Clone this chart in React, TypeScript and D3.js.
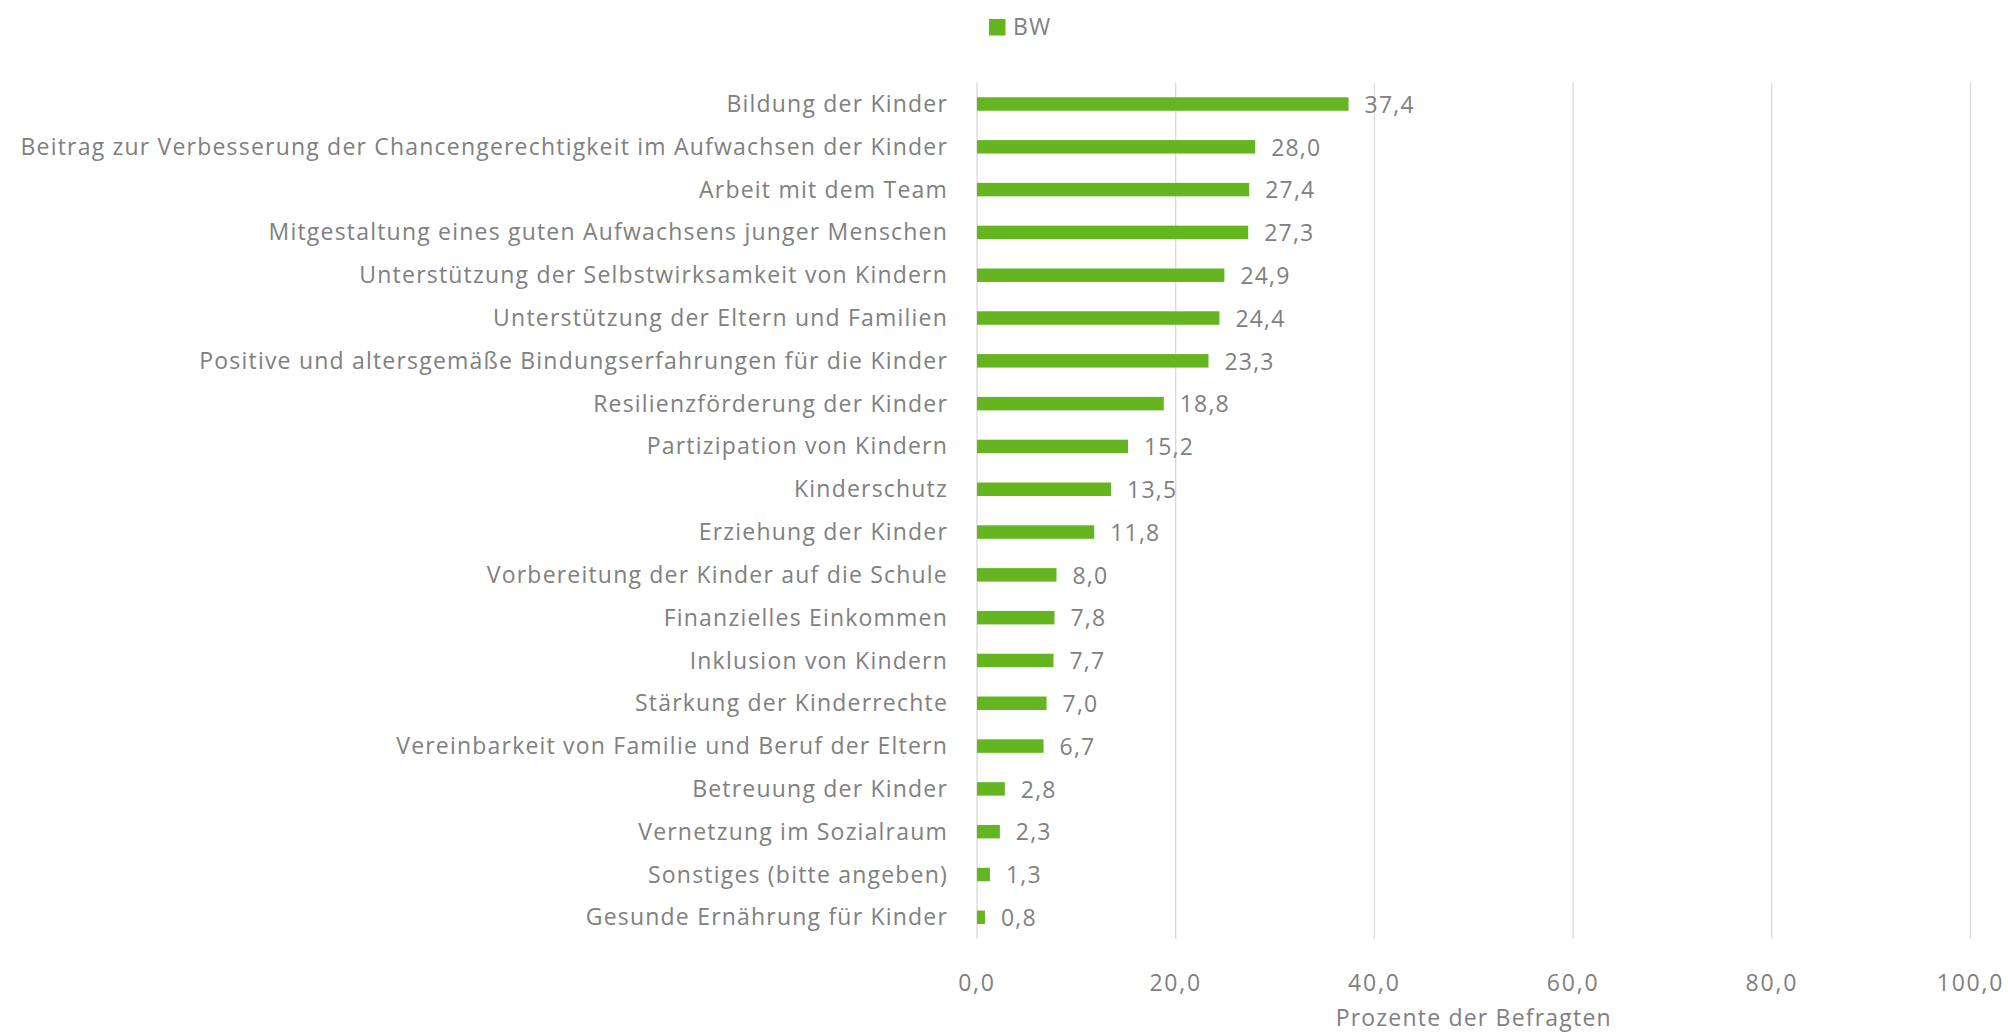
import React from "react";
import * as d3 from "d3";

const categories = [
  "Bildung der Kinder",
  "Beitrag zur Verbesserung der Chancengerechtigkeit im Aufwachsen der Kinder",
  "Arbeit mit dem Team",
  "Mitgestaltung eines guten Aufwachsens junger Menschen",
  "Unterstützung der Selbstwirksamkeit von Kindern",
  "Unterstützung der Eltern und Familien",
  "Positive und altersgemäße Bindungserfahrungen für die Kinder",
  "Resilienzförderung der Kinder",
  "Partizipation von Kindern",
  "Kinderschutz",
  "Erziehung der Kinder",
  "Vorbereitung der Kinder auf die Schule",
  "Finanzielles Einkommen",
  "Inklusion von Kindern",
  "Stärkung der Kinderrechte",
  "Vereinbarkeit von Familie und Beruf der Eltern",
  "Betreuung der Kinder",
  "Vernetzung im Sozialraum",
  "Sonstiges (bitte angeben)",
  "Gesunde Ernährung für Kinder",
];
const values = [37.4, 28.0, 27.4, 27.3, 24.9, 24.4, 23.3, 18.8, 15.2, 13.5, 11.8, 8.0, 7.8, 7.7, 7.0, 6.7, 2.8, 2.3, 1.3, 0.8];
const xTicks = [0, 20, 40, 60, 80, 100];
const seriesName = "BW";
const axisTitle = "Prozente der Befragten";

const W = 2008;
const H = 1033;
const left = 977;
const right = 1970.5;
const top = 82.6;
const bottom = 938.7;
const barColor = "#65B521";
const textColor = "#808080";
const gridColor = "#D9D9D9";
const font = "'Open Sans', sans-serif";
const fmt = (v: number) => v.toFixed(1).replace(".", ",");

export default function App() {
  const x = d3.scaleLinear().domain([0, 100]).range([left, right]);
  const y = d3.scaleBand<string>().domain(categories).range([top, bottom]).paddingInner(0.685).paddingOuter(0.3425);
  return (
    <svg width={W} height={H} style={{ position: "fixed", left: 0, top: 0, background: "#fff" }} fontFamily={font}>
      {xTicks.map((t) => (
        <line key={"g" + t} x1={x(t)} x2={x(t)} y1={top} y2={bottom} stroke={gridColor} strokeWidth={1.3} />
      ))}
      {categories.map((c, i) => (
        <g key={c}>
          <rect x={x(0)} y={y(c)!} width={x(values[i]) - x(0)} height={y.bandwidth()} fill={barColor} />
          <text x={948} y={y(c)! + y.bandwidth() / 2} dy="0.35em" textAnchor="end" fontSize={23} fill={textColor} letterSpacing={1.2}>
            {c}
          </text>
          <text x={x(values[i]) + 16} y={y(c)! + y.bandwidth() / 2} dy="0.38em" fontSize={23} fill={textColor} letterSpacing={1.2}>
            {fmt(values[i])}
          </text>
        </g>
      ))}
      {xTicks.map((t) => (
        <text key={"t" + t} x={x(t)} y={991} textAnchor="middle" fontSize={23} fill={textColor} letterSpacing={1.8}>
          {fmt(t)}
        </text>
      ))}
      <text x={(left + right) / 2} y={1026} textAnchor="middle" fontSize={23} fill={textColor} letterSpacing={1.2}>
        {axisTitle}
      </text>
      <rect x={989} y={19} width={16.5} height={16.5} fill={barColor} />
      <text x={1013} y={35} fontSize={23} fill={textColor} letterSpacing={1.2}>
        {seriesName}
      </text>
    </svg>
  );
}
